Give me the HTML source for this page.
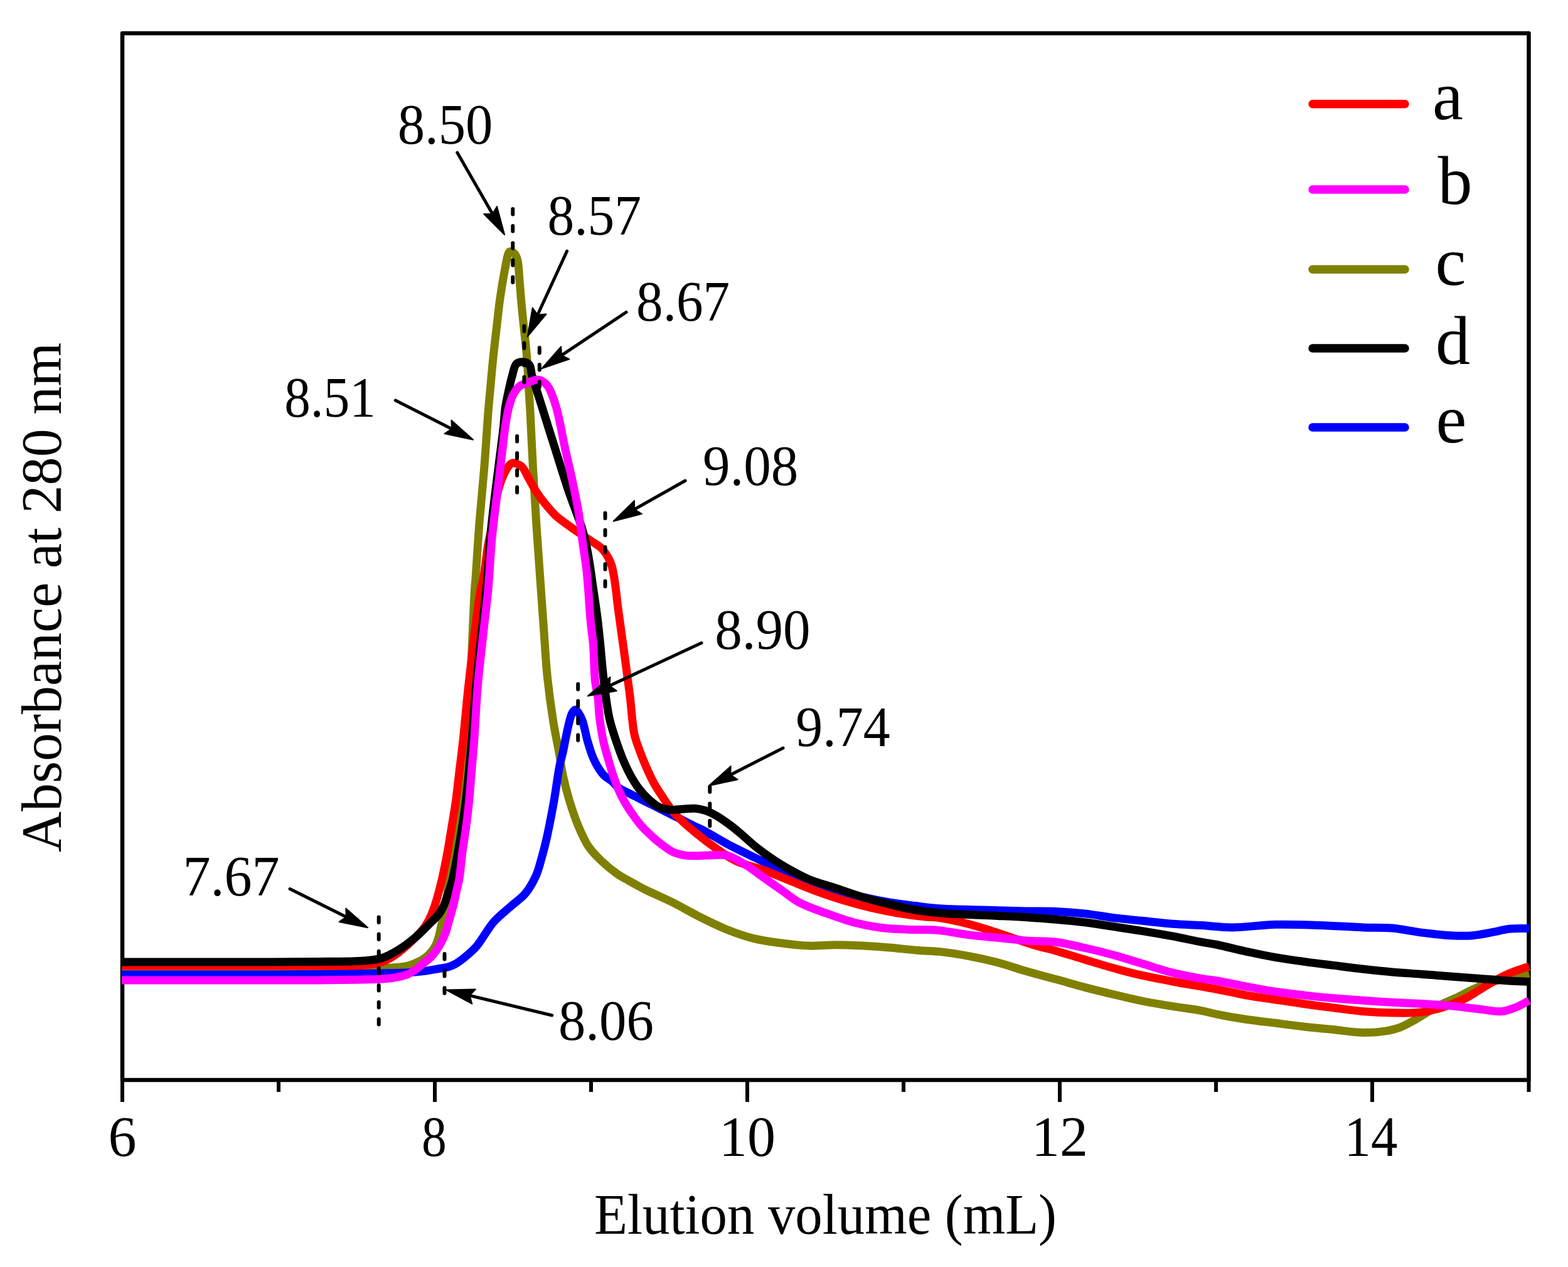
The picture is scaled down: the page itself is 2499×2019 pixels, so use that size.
<!DOCTYPE html>
<html><head><meta charset="utf-8"><title>Elution profile</title><style>
html,body{margin:0;padding:0;background:#fff;}
svg{display:block;}
</style></head><body>
<svg width="2499" height="2019" viewBox="0 0 2499 2019" font-family="'Liberation Serif', 'Times New Roman', serif">
<rect width="2499" height="2019" fill="#fff"/>
<rect x="195" y="53" width="2241.5" height="1668" fill="none" stroke="#000" stroke-width="6.5" stroke-linejoin="round"/>
<g fill="none" stroke-width="13" stroke-linejoin="round" stroke-linecap="butt">
<path d="M194 1542C229.3 1542 265.2 1542 300 1542C333.8 1542 366.7 1542 400 1542C433.3 1542 468.5 1541.8 500 1542C528.2 1542.2 560.9 1542.7 580 1543C590.7 1543.2 597.1 1543.7 605 1543.5C612 1543.3 618 1542.7 625 1542C632.9 1541.2 642.8 1540.7 650 1539C655.7 1537.6 660.3 1535.7 665 1533.5C669.6 1531.4 674.1 1529 678 1526C681.8 1523.1 685.1 1519.6 688 1516C690.8 1512.6 693.1 1509.1 695 1505C697.1 1500.5 698.6 1495 700 1490C701.3 1485.3 701.9 1480.9 703 1476C704.3 1470.4 706.2 1464.2 707.5 1458C708.9 1451.5 709.8 1445.5 711 1438C712.5 1428.4 713.8 1416.7 715.5 1405C717.4 1391.6 719.7 1376.2 722 1362C724.2 1347.9 726.8 1333.8 729 1320C731.1 1306.5 733 1296.4 735 1280C738.2 1254.2 742.4 1214.9 745 1180C747.9 1141.9 749.1 1100 751 1060C752.9 1020 755 963.5 756.5 940C757.1 930.2 757.5 928.5 758.2 919.2C759.6 900.2 761.8 861.6 764 832.8C766.3 804 769.4 775.2 771.7 746.4C774 717.6 776 683 777.8 660C779 644.7 780 634.9 781.2 621.9C782.4 608.3 783.8 592.5 785 580C786 570 786.8 562.4 787.9 552.8C789.1 542 790.6 529.7 791.9 518.2C793.2 506.7 794.4 495.2 795.9 483.7C797.4 472.2 799.4 459.6 801.1 449.1C802.6 440.3 804.1 432.3 805.5 425C806.7 418.8 807.6 412.4 809 408C809.9 405.1 810.4 401.8 812 401C813.5 400.3 816.3 401.4 818 402.5C820 403.8 821.8 406.5 823 409C824.3 411.6 824.8 414.1 825.5 418C826.8 425.2 827.3 438.5 828.2 449.1C829.2 460.3 830 472.2 831.1 483.7C832.1 495.2 833.3 506.7 834.5 518.2C835.7 529.7 837.2 542 838.2 552.8C839.1 562.4 839.8 570 840.5 580C841.4 592.5 842.1 608.3 842.9 621.9C843.7 634.9 844.4 644.7 845.2 660C846.5 683 847.9 717.6 849.5 746.4C851.1 775.2 852.8 804 854.7 832.8C856.6 861.6 858.7 890.1 860.7 919.2C862.8 948.9 865.1 981.1 867.1 1009.1C868.9 1033.6 869.9 1055.2 872.3 1078.2C874.7 1101.3 878 1126 881.4 1147.4C884.3 1166 888.2 1183.5 891 1199.2C893.3 1212.2 894.4 1222.6 897 1235C899.9 1248.6 903.9 1263.8 908.1 1277.6C912.2 1291 916.7 1304.5 921.9 1316.8C926.7 1328.2 931.5 1339.5 938 1349C944 1357.8 951.2 1364.9 958.8 1372.1C966.6 1379.5 975.8 1387.1 984.1 1392.8C991.2 1397.7 997.8 1400.9 1005 1405C1012.6 1409.3 1019.6 1413.3 1028.8 1417.9C1041 1424 1057.7 1430.9 1072 1438C1086.5 1445.2 1100.7 1453.9 1115.2 1461.1C1129.5 1468.2 1143.8 1475.4 1158.4 1481.2C1172.6 1486.9 1187.1 1492 1201.6 1495.6C1215.9 1499.1 1230.4 1500.9 1244.8 1502.8C1259.2 1504.7 1273.6 1506.6 1288 1507.1C1302.4 1507.6 1316.8 1505.7 1331.2 1505.7C1345.6 1505.7 1360 1506.4 1374.4 1507.1C1388.8 1507.8 1403.2 1508.8 1417.6 1510C1432 1511.2 1447.1 1513.2 1460.8 1514.3C1473.3 1515.3 1483.8 1515.1 1496.5 1516.4C1511 1517.9 1527.5 1520.4 1543 1523.3C1558.7 1526.2 1574.5 1529.7 1590 1533.8C1605.5 1537.9 1620.6 1543.3 1636 1547.8C1651.5 1552.3 1667.4 1556.3 1683 1560.6C1698.4 1564.8 1713.6 1569.3 1729 1573.4C1744.6 1577.5 1760.4 1581.3 1776 1585C1791.4 1588.7 1806.5 1592.4 1822 1595.5C1837.5 1598.6 1853.4 1601.1 1869 1603.6C1884.4 1606.1 1902 1608.1 1915 1610.6C1924.6 1612.4 1930.4 1614.4 1940 1616.4C1953.1 1619.1 1971 1622.2 1986.5 1624.5C2002 1626.8 2017.5 1628.4 2033 1630.3C2048.6 1632.3 2064.4 1634.4 2080 1636.2C2095.4 1637.9 2110.6 1639.3 2126 1640.8C2141.6 1642.4 2158.5 1645.3 2173 1645.5C2185.4 1645.7 2197.3 1644.7 2207.6 1643.1C2216.2 1641.7 2223.2 1640.1 2230.8 1637.3C2238.7 1634.4 2246.4 1629.9 2254.1 1625.7C2262 1621.4 2269.6 1616.2 2277.4 1611.7C2285.1 1607.3 2292.8 1602.8 2300.6 1598.9C2308.3 1595.1 2316.2 1592.2 2323.9 1588.5C2331.7 1584.8 2339.4 1580.3 2347.2 1576.8C2354.9 1573.3 2362.6 1570.2 2370.4 1567.5C2378.1 1564.8 2384.7 1562.8 2393.7 1560.5C2405.9 1557.4 2422.6 1554.5 2437 1551.5" stroke="#808000"/>
<path d="M194 1553C229.3 1553 265.2 1553 300 1553C333.8 1553 366.7 1553.1 400 1553C433.3 1552.9 468.5 1552.8 500 1552.5C528.2 1552.3 562.2 1551.8 580 1551.5C588.9 1551.3 591.9 1551.2 600 1551C612.5 1550.7 633.8 1550.8 647.5 1550C658 1549.4 666.4 1548.6 675.4 1547.5C683.9 1546.4 693 1544.7 700 1543.5C705.3 1542.6 709.6 1542.3 714 1541C718.2 1539.8 722 1538.2 726 1536C730.6 1533.4 735.1 1530 740 1526C746 1521.1 752.5 1515.9 759 1508.5C768 1498.3 777 1480.3 787 1469C795.8 1459 806.2 1451.4 815 1443.5C822.9 1436.4 831 1431.4 837.4 1423.6C844.1 1415.5 849.9 1405.1 854.2 1395.5C858.3 1386.5 860.2 1377.6 863 1368C865.9 1357.8 868.4 1348.3 871.2 1336C874.9 1319.5 879.2 1297 882.7 1277.6C886.1 1258.4 889 1234.4 891.9 1220C893.7 1211.3 895.4 1206.5 897 1199.2C898.8 1191.1 900.4 1181.7 902.2 1173.3C903.9 1165.3 905.5 1156.7 907.4 1150C908.9 1144.7 910 1139.3 912 1136C913.4 1133.7 915.3 1131 917 1131C918.7 1131 920.4 1133.8 922 1136C924.2 1139 926.2 1142.8 928.1 1148C931.2 1156.3 933.6 1171.4 936.7 1181.9C939.4 1191.2 942.3 1200.5 945.4 1207.8C947.8 1213.5 950.1 1217.9 953 1222.6C955.9 1227.3 959.1 1232.1 963 1236C966.8 1239.8 972.3 1242.2 976.1 1245.6C979.6 1248.6 981.5 1252.2 985.2 1255C989.5 1258.2 995.1 1260.4 1000.7 1263.3C1007.1 1266.6 1014.6 1270.2 1021.5 1273.7C1028.4 1277.1 1035.3 1280.6 1042.2 1284C1049.1 1287.5 1056 1290.9 1062.9 1294.4C1069.8 1297.9 1076.8 1301.3 1083.7 1304.8C1090.6 1308.3 1097.5 1311.8 1104.4 1315.2C1111.3 1318.7 1117.5 1321.4 1125.2 1325.5C1135 1330.8 1146.5 1338.1 1158.4 1344.5C1171.8 1351.6 1187.2 1359 1201.6 1366C1216 1372.9 1230.3 1379.9 1244.8 1386.2C1259.1 1392.4 1273.5 1398.2 1288 1403.5C1302.3 1408.7 1316.7 1413.6 1331.2 1417.9C1345.5 1422.2 1359.9 1426 1374.4 1429.4C1388.7 1432.7 1403.2 1435.6 1417.6 1438C1432 1440.4 1447.1 1442.1 1460.8 1443.8C1473.3 1445.3 1482.6 1446.7 1496.5 1447.7C1515.9 1449.1 1543 1449.3 1566.3 1450C1589.5 1450.7 1615 1451.5 1636 1451.9C1653.2 1452.2 1667.4 1451.7 1683 1452.4C1698.4 1453.1 1713.6 1454.2 1729 1455.9C1744.6 1457.6 1760.4 1460.9 1776 1462.8C1791.4 1464.7 1806.6 1465.9 1822 1467.5C1837.6 1469.1 1853.4 1471 1869 1472.2C1884.4 1473.4 1899.5 1473.6 1915 1474.5C1930.9 1475.5 1945.7 1477.9 1963.3 1477.9C1984.4 1477.9 2009.7 1473.9 2033 1473.3C2056.3 1472.7 2079.7 1473.7 2103 1474.5C2126.3 1475.3 2152.1 1477.1 2173 1477.9C2189.9 1478.5 2203.6 1477.8 2219 1479.1C2234.6 1480.5 2250.4 1484.2 2266 1486.1C2281.4 1488 2297.7 1490 2312 1490.7C2324.4 1491.3 2335.4 1491.7 2347 1490.7C2358.7 1489.7 2371.6 1486.8 2382 1484.9C2390.5 1483.3 2396.7 1481.2 2405 1480.3C2414.7 1479.2 2426.3 1479.8 2437 1479.5" stroke="#0000ff"/>
<path d="M194 1539C229.3 1539 265.2 1539 300 1539C333.8 1539 366.7 1539 400 1539C433.3 1539 468.5 1539.2 500 1539C528.2 1538.8 560.3 1539.7 580 1538C591.6 1537 599.6 1536 607.6 1533.5C614.2 1531.4 619.6 1528.3 625 1525C630.3 1521.8 634.8 1518.3 640 1514C646.3 1508.9 653.8 1502.3 660 1496C666.1 1489.9 672.5 1483.3 677 1477C680.8 1471.6 683.4 1466.6 686 1461C688.7 1455.3 690.6 1450.3 693 1443C696.6 1432.1 701 1415.4 704.3 1401.5C707.6 1387.7 710.2 1373.7 712.8 1360C715.3 1346.6 717.3 1333.3 719.5 1320C721.7 1306.7 724 1294.1 726 1280C728.2 1264.3 730 1246.7 732 1230C734 1213.3 735.9 1199.1 738 1180C740.8 1154.4 743.2 1123.8 747 1090C751.9 1046.3 761.2 966.7 766 940C767.8 930.2 769.2 928.2 770.7 920C773.1 907.1 775.1 885.2 777.6 870C779.7 857.3 782.7 845.5 784.5 835C786 826.5 786.8 819.7 788 812C789.3 804.3 790.3 796.4 792 789C793.7 781.8 795.8 774.2 798 768C799.8 762.8 802 758.1 804 754C805.7 750.6 807 747.7 809 745C811 742.4 812.9 738.7 816 738C819.9 737.1 826.8 739.6 831 743C836.1 747.1 839 756.2 843 763C847 769.9 850.6 777.3 855 784C859.3 790.6 863.9 796.8 869 803C874.3 809.5 879.7 816.2 886 822C892.4 827.9 900.7 833.3 907 838C912.1 841.8 915.8 844.4 921 848C927.3 852.3 935.4 857.5 942 862C948 866.1 954.4 869.4 959 874C963.2 878.2 966.3 883.2 969 888C971.6 892.5 973.3 896.5 975 902C977.2 909.2 978.5 918.3 980 928C981.9 940.1 983 953.6 985 969C987.6 989 991.4 1015 994.5 1038C997.6 1061 1000.9 1084.5 1003.7 1107C1006.4 1128.5 1007.5 1153.7 1011 1170C1013.3 1180.7 1016.3 1187.4 1019.4 1196C1022.5 1204.7 1026 1213.4 1029.8 1222C1033.6 1230.7 1037.5 1239.5 1042.2 1248C1047.1 1256.8 1053.4 1265.9 1058.8 1274C1063.7 1281.3 1068.1 1288.3 1073.3 1294.4C1078.2 1300.2 1083.6 1305.1 1088.9 1310C1094 1314.8 1099.2 1319.1 1104.4 1323.5C1109.5 1327.8 1115 1332.1 1120 1336C1124.6 1339.6 1127.7 1342.2 1133.4 1346.3C1143 1353.1 1158.9 1365.1 1172.8 1371.8C1186.5 1378.4 1201.7 1381 1216 1386.2C1230.5 1391.5 1244.8 1397.7 1259.2 1403.5C1273.6 1409.2 1287.9 1415.4 1302.4 1420.7C1316.7 1425.9 1331.1 1430.8 1345.6 1435.1C1359.9 1439.4 1374.3 1443.3 1388.8 1446.7C1403.1 1450 1417.6 1452.9 1432 1455.3C1446.3 1457.7 1463.1 1459.8 1475 1461C1483.4 1461.8 1488 1461.3 1496.5 1462.5C1509.1 1464.2 1528.7 1468.6 1543 1472.2C1555.6 1475.4 1566.4 1478.9 1578 1482.6C1589.7 1486.3 1601.3 1490.4 1613 1494.3C1624.7 1498.2 1636.3 1502.4 1648 1505.9C1659.6 1509.4 1670.6 1511.7 1683 1515.2C1697.3 1519.3 1713.6 1524.6 1729 1529.2C1744.6 1533.9 1760.4 1538.8 1776 1543.1C1791.4 1547.3 1806.5 1551.2 1822 1554.7C1837.5 1558.2 1853.4 1561.1 1869 1564C1884.4 1566.9 1902 1569.9 1915 1572.2C1924.6 1573.9 1930.4 1574.7 1940 1576.5C1953.1 1579 1971 1583.2 1986.5 1586C2002 1588.7 2017.5 1590.7 2033 1593C2048.6 1595.3 2064.4 1597.8 2080 1600C2095.4 1602.2 2110.6 1604.1 2126 1606C2141.6 1608 2157.4 1610.4 2173 1611.7C2188.4 1613 2203.6 1613.8 2219 1614C2234.6 1614.2 2251.6 1614.8 2266 1612.9C2278.5 1611.3 2289.2 1608.3 2300.6 1604.7C2312.3 1601 2325.2 1595.9 2335.5 1590.8C2344.2 1586.5 2351 1581.4 2358.8 1576.8C2366.5 1572.2 2374.2 1567.3 2382 1563C2389.6 1558.8 2396.6 1554.8 2405 1551.2C2414.7 1547.1 2426.3 1543.7 2437 1540" stroke="#ff0000"/>
<path d="M194 1533C229.3 1533 265.2 1533 300 1533C333.8 1533 366.7 1533.1 400 1533C433.3 1532.9 468.5 1532.9 500 1532.5C528.2 1532.2 560.3 1532.6 580 1531C591.6 1530.1 598.6 1529.8 607.6 1527C617.1 1524.1 626.3 1519 635.3 1513.5C644.8 1507.7 654.6 1500.1 662.9 1493C670.5 1486.5 677.2 1479.5 683.7 1473C689.5 1467.2 695.9 1461.5 700 1456C703.3 1451.6 705.1 1448 707.4 1443C710.1 1437 712.4 1429.1 714.7 1422.2C717 1415.3 719.1 1409.7 721.2 1401.5C724.1 1390.1 726.6 1376.1 729.5 1360C733.5 1337.7 738.4 1308.2 742 1280C746 1248.6 748.9 1212.5 751.8 1180C754.5 1149.2 755.8 1123.8 759 1090C763.1 1046.3 772.3 967.2 775 940C776 929.8 776.2 928.2 777 919C778.5 901.1 780.3 867.9 783 840C786.1 808.6 791.4 769.1 795 740C797.8 717.5 800.7 696.6 802.5 680C803.8 668.3 803.9 659.8 805.3 650C806.7 640.5 808.9 630.8 810.8 622C812.5 614.2 813.9 607.1 816 600C818.1 593 819.2 583.2 823.2 579.6C826.2 576.9 831.4 576.4 835 576.9C838.3 577.3 841.8 579 843.9 581.7C846.5 585.1 846.3 592.7 847.5 597C848.4 600.1 848.8 601.3 850 605C852.5 613.1 857.6 628.9 862.3 643.7C868.5 663.4 876.7 689.8 884 712.8C891.3 735.8 899.6 763.1 906 781.9C910.5 795 914.3 804.7 918 815C921.2 823.9 924.4 831.4 927 840C929.7 848.8 931.9 857.5 934 867C936.3 877.4 938.2 888.8 940 900C941.9 911.5 943.4 924.1 945 935C946.4 944.6 947.7 952.8 949 962C950.4 971.7 951.8 981.7 953 992C954.3 1003 955.3 1013.2 956.6 1026C958.3 1042.8 959.9 1064.5 962.3 1084C964.8 1104.1 966.9 1125.7 971.3 1145C975.4 1162.9 982.6 1182.8 987.3 1196C990.3 1204.5 992.5 1209.9 995.6 1216.7C998.7 1223.7 1002 1230.6 1005.9 1237.4C1009.9 1244.4 1014.5 1251.9 1019.4 1258.1C1023.9 1263.9 1028.7 1269 1033.9 1273.7C1039.1 1278.3 1044.6 1283.3 1050.5 1286.1C1056 1288.7 1061.9 1289.7 1068.1 1290.3C1074.7 1290.9 1082.2 1289.6 1088.9 1289.2C1095.3 1288.9 1101.6 1287.8 1107.5 1288.2C1113 1288.6 1118.3 1289.8 1123.1 1291.3C1127.5 1292.7 1131.2 1294.3 1135.5 1296.5C1140.5 1299 1146 1302.4 1151.1 1305.8C1156.4 1309.3 1161.7 1313.2 1166.6 1317C1171.3 1320.6 1174.8 1323.6 1180 1328C1187.5 1334.3 1197.3 1343.8 1207.4 1351.6C1218.7 1360.3 1231.6 1369.5 1244.8 1377.5C1258.5 1385.8 1273.3 1394.3 1288 1400.6C1302.1 1406.7 1316.8 1410.2 1331.2 1415C1345.6 1419.8 1359.9 1425.1 1374.4 1429.4C1388.7 1433.7 1404.2 1437.5 1417.6 1440.9C1429.2 1443.8 1438.2 1446.3 1450 1448.5C1464 1451.1 1481 1453.2 1496.5 1454.7C1512 1456.2 1527.5 1456.7 1543 1457.5C1558.6 1458.3 1574.4 1458.7 1590 1459.4C1605.4 1460.1 1620.6 1460.7 1636 1461.7C1651.6 1462.7 1667.4 1463.8 1683 1465.2C1698.4 1466.5 1713.6 1467.9 1729 1469.8C1744.6 1471.7 1760.4 1474.5 1776 1476.8C1791.4 1479.1 1806.6 1481.3 1822 1483.8C1837.6 1486.3 1853.4 1489 1869 1491.9C1884.4 1494.8 1902 1498.8 1915 1501.2C1924.6 1503 1930.4 1503.6 1940 1505.5C1953.1 1508.2 1971 1512.9 1986.5 1516.3C2002 1519.6 2017.4 1522.9 2033 1525.6C2048.6 1528.3 2064.4 1530.5 2080 1532.6C2095.4 1534.7 2110.6 1536.5 2126 1538.4C2141.6 1540.4 2157.4 1542.5 2173 1544.3C2188.4 1546 2203.6 1547.6 2219 1548.9C2234.6 1550.3 2250.4 1551.2 2266 1552.4C2281.4 1553.6 2296.6 1554.7 2312 1555.9C2327.6 1557.1 2343.4 1558.2 2359 1559.4C2374.4 1560.6 2391 1562.1 2405 1562.9C2416.6 1563.6 2426.3 1563.8 2437 1564.2" stroke="#000000"/>
<path d="M194 1562C229.3 1562 265.2 1562 300 1562C333.8 1562 366.7 1562 400 1562C433.3 1562 468.5 1562.2 500 1562C528.2 1561.8 562.2 1561.3 580 1561C588.9 1560.8 593 1560.9 600 1560.5C607.9 1560.1 616.7 1559.8 625 1558.5C633.4 1557.2 643 1555.4 650 1552.5C655.5 1550.2 659.6 1547.1 664 1544C668.3 1540.9 672.1 1537.2 676 1534C679.7 1530.9 683.4 1528.8 687 1525C691.6 1520.2 696.7 1513 700.5 1506.7C704.1 1500.7 707 1494.6 709.5 1488C712.2 1481.1 713.9 1473.4 716 1466C718.2 1458.4 720.6 1450.7 722.5 1443C724.4 1435.4 725.9 1427.2 727.5 1420C729 1413.5 730.5 1408.9 731.8 1401.5C733.7 1390.5 734.9 1373.7 736.7 1360C738.5 1346.5 740.7 1333.3 742.5 1320C744.3 1306.7 745.9 1294.1 747.3 1280C748.9 1264.3 750.1 1246.7 751.5 1230C752.9 1213.3 754.3 1199.1 755.7 1180C757.6 1154.4 758.7 1123.8 761.7 1090C765.5 1046.3 775.5 966.8 778 940C778.9 930.2 778.9 928.5 779.5 920C780.6 905 782.2 877.3 784 858C785.6 841 787.7 825.3 789.5 810C791.2 796.1 792.7 785.2 794.5 770C796.9 749.9 800.7 716.3 802.7 700C803.8 691.3 804.1 687.3 805.2 680C806.6 671 808.4 659 810.7 650C812.7 642.4 814.6 635.2 817.7 629.2C820.5 623.9 823.8 618.6 828 615.3C831.9 612.3 837.3 611.5 841.9 609.8C846.5 608.1 851.4 605 855.7 605C859.4 605 863.2 606.6 866.1 608.4C868.9 610.1 870.9 612.4 873 615.3C875.6 619 877.8 624 879.9 629.2C882.4 635.4 884.7 642.4 886.8 650C889.3 659 891.5 669.8 893.7 680C896 690.7 897.6 700.7 900.2 712.8C903.4 727.9 908.1 746.6 911.7 763.7C915.3 780.9 919.1 798.2 922 815.5C924.9 832.7 926.7 851 929 867.4C931.1 882.3 933.5 897 935 910C936.2 920.9 936.7 928.6 937.6 940C938.8 955 940 976.6 941.5 992.2C942.7 1004.8 944.3 1013.5 945.4 1026.4C946.8 1043.2 946.7 1068.4 948.4 1084.3C949.6 1095.5 952 1103.2 953.1 1112.8C954.3 1122.4 954.1 1131.5 955.3 1141.9C956.8 1154.2 959.3 1170.4 961.8 1181.9C963.7 1190.7 965.6 1196.6 968 1205C970.9 1215 974.2 1227.3 978 1238C981.7 1248.5 985.6 1258.9 990.4 1268.5C995 1277.7 1000.5 1286.4 1005.9 1294.4C1010.9 1301.9 1016.1 1308.9 1021.5 1315.2C1026.5 1320.9 1031.7 1325.8 1037 1330.7C1042.1 1335.5 1047 1339.9 1052.6 1344.2C1058.6 1348.8 1065.2 1354.2 1072 1357.4C1078.4 1360.4 1084.4 1362 1092.2 1363.1C1102.7 1364.6 1117.9 1363.1 1129.6 1363.1C1139.8 1363.1 1149.1 1360.9 1158.4 1363.1C1168.3 1365.4 1177.8 1371.9 1187.2 1377.5C1197 1383.4 1206.4 1391 1216 1397.7C1225.6 1404.4 1235.2 1411.2 1244.8 1417.9C1254.4 1424.6 1262.6 1432.1 1273.6 1438C1286.2 1444.8 1302.3 1450 1316.8 1455.3C1331.1 1460.5 1345.5 1465.9 1360 1469.7C1374.3 1473.5 1388.7 1476.4 1403.2 1478.3C1417.5 1480.2 1431.5 1480.5 1446.4 1481.2C1462.5 1482 1480.2 1481.1 1496.5 1482.6C1512.3 1484 1527.4 1487.7 1543 1489.6C1558.6 1491.6 1574.4 1492.7 1590 1494.3C1605.4 1495.8 1620.6 1497.8 1636 1498.9C1651.6 1500.1 1667.5 1499.3 1683 1501.2C1698.5 1503.1 1713.6 1507 1729 1510.5C1744.6 1514 1760.5 1517.9 1776 1522.2C1791.5 1526.5 1806.6 1531.5 1822 1536.1C1837.6 1540.8 1853.3 1546.2 1869 1550.1C1884.3 1553.9 1902 1557.1 1915 1559.4C1924.6 1561.1 1930.4 1561.4 1940 1563C1953.1 1565.2 1971 1569.3 1986.5 1572.2C2002 1575.1 2017.4 1578 2033 1580.3C2048.6 1582.6 2064.4 1584.3 2080 1586.1C2095.4 1587.8 2110.6 1589.4 2126 1590.8C2141.6 1592.2 2157.4 1593.2 2173 1594.3C2188.4 1595.4 2203.6 1596.4 2219 1597.3C2234.6 1598.2 2250.4 1598.7 2266 1599.6C2281.4 1600.5 2296.6 1601.5 2312 1602.9C2327.6 1604.3 2344.5 1606.7 2359 1608.2C2371.4 1609.5 2383.4 1612.7 2393.7 1611.7C2402.3 1610.9 2409.7 1607.6 2417 1604.7C2424.1 1601.9 2430.3 1597.9 2437 1594.5" stroke="#ff00ff"/>
</g>
<g>
<path d="M603.7 1461.5V1470.0M603.7 1488.6V1497.1M603.7 1515.7V1524.2M603.7 1542.8V1551.3M603.7 1569.9V1578.4M603.7 1597.0V1605.5M603.7 1624.1V1632.6" stroke="#000" stroke-width="6" stroke-linecap="round" fill="none"/>
<path d="M708.5 1520.0V1528.5M708.5 1547.1V1555.6M708.5 1574.2V1582.7" stroke="#000" stroke-width="6" stroke-linecap="round" fill="none"/>
<path d="M817.3 333.0V341.5M817.3 360.1V368.6M817.3 387.2V395.7M817.3 414.3V422.8M817.3 441.4V449.9" stroke="#000" stroke-width="6" stroke-linecap="round" fill="none"/>
<path d="M835.4 519.5V528.0M835.4 546.6V555.1M835.4 573.7V582.2M835.4 600.8V609.3" stroke="#000" stroke-width="6" stroke-linecap="round" fill="none"/>
<path d="M859.8 554.0V562.5M859.8 581.1V589.6M859.8 608.2V616.7" stroke="#000" stroke-width="6" stroke-linecap="round" fill="none"/>
<path d="M824.1 695.0V703.5M824.1 722.1V730.6M824.1 749.2V757.7M824.1 776.3V784.8" stroke="#000" stroke-width="6" stroke-linecap="round" fill="none"/>
<path d="M964.5 817.5V826.0M964.5 844.6V853.1M964.5 871.7V880.2M964.5 898.8V907.3M964.5 925.9V934.4" stroke="#000" stroke-width="6" stroke-linecap="round" fill="none"/>
<path d="M921.2 1090.0V1098.5M921.2 1117.1V1125.6M921.2 1144.2V1152.7M921.2 1171.3V1179.8" stroke="#000" stroke-width="6" stroke-linecap="round" fill="none"/>
<path d="M1131.3 1253.5V1262.0M1131.3 1280.6V1289.1M1131.3 1307.7V1316.2" stroke="#000" stroke-width="6" stroke-linecap="round" fill="none"/>
</g>
<g>
<path d="M728.8 243.2L785.0 340.9" stroke="#000" stroke-width="5" stroke-linecap="round" fill="none"/><path d="M804.1 374.0L771.2 341.0L785.0 340.9L792.0 329.0Z" fill="#000" stroke="#000" stroke-width="2" stroke-linejoin="round"/>
<path d="M903.6 400.2L856.8 501.7" stroke="#000" stroke-width="5" stroke-linecap="round" fill="none"/><path d="M840.8 536.4L848.7 490.5L856.8 501.7L870.5 500.6Z" fill="#000" stroke="#000" stroke-width="2" stroke-linejoin="round"/>
<path d="M998.0 497.5L895.1 566.2" stroke="#000" stroke-width="5" stroke-linecap="round" fill="none"/><path d="M863.3 587.4L894.1 552.4L895.1 566.2L907.4 572.4Z" fill="#000" stroke="#000" stroke-width="2" stroke-linejoin="round"/>
<path d="M630.3 638.0L720.0 683.4" stroke="#000" stroke-width="5" stroke-linecap="round" fill="none"/><path d="M754.1 700.7L708.5 691.1L720.0 683.4L719.4 669.7Z" fill="#000" stroke="#000" stroke-width="2" stroke-linejoin="round"/>
<path d="M1092.1 766.0L1011.0 811.7" stroke="#000" stroke-width="5" stroke-linecap="round" fill="none"/><path d="M977.7 830.5L1011.0 797.9L1011.0 811.7L1022.8 818.9Z" fill="#000" stroke="#000" stroke-width="2" stroke-linejoin="round"/>
<path d="M1118.0 1024.5L971.5 1092.8" stroke="#000" stroke-width="5" stroke-linecap="round" fill="none"/><path d="M936.8 1109.0L972.5 1079.1L971.5 1092.8L982.7 1100.9Z" fill="#000" stroke="#000" stroke-width="2" stroke-linejoin="round"/>
<path d="M1248.0 1192.0L1164.1 1234.7" stroke="#000" stroke-width="5" stroke-linecap="round" fill="none"/><path d="M1130.0 1252.0L1164.7 1220.9L1164.1 1234.7L1175.6 1242.3Z" fill="#000" stroke="#000" stroke-width="2" stroke-linejoin="round"/>
<path d="M462.0 1416.5L551.9 1461.2" stroke="#000" stroke-width="5" stroke-linecap="round" fill="none"/><path d="M586.2 1478.2L540.6 1468.9L551.9 1461.2L551.2 1447.4Z" fill="#000" stroke="#000" stroke-width="2" stroke-linejoin="round"/>
<path d="M879.8 1618.0L748.6 1586.4" stroke="#000" stroke-width="5" stroke-linecap="round" fill="none"/><path d="M711.4 1577.5L758.0 1576.4L748.6 1586.4L752.3 1599.7Z" fill="#000" stroke="#000" stroke-width="2" stroke-linejoin="round"/>
</g>
<g font-size="90" fill="#000">
<text transform="translate(633.7 228.6) scale(0.963 1)">8.50</text>
<text transform="translate(872.4 373.5) scale(0.950 1)">8.57</text>
<text transform="translate(1014.1 511.2) scale(0.946 1)">8.67</text>
<text transform="translate(453.3 663.9) scale(0.924 1)">8.51</text>
<text transform="translate(1119.9 772.7) scale(0.967 1)">9.08</text>
<text transform="translate(1139.3 1034.2) scale(0.967 1)">8.90</text>
<text transform="translate(1268.3 1189.3) scale(0.955 1)">9.74</text>
<text transform="translate(291.5 1427.3) scale(0.978 1)">7.67</text>
<text transform="translate(890.0 1657.4) scale(0.964 1)">8.06</text>
</g>
<g stroke="#000" stroke-width="6">
<path d="M195 1721V1756M444 1721V1740M693 1721V1756M942 1721V1740M1191 1721V1756M1440 1721V1740M1689 1721V1756M1938 1721V1740M2187 1721V1756M2436.5 1721V1740"/>
</g>
<g font-size="90" text-anchor="middle" fill="#000">
<text x="195" y="1842">6</text>
<text transform="translate(692 1842) scale(0.885 1)">8</text>
<text x="1191" y="1842">10</text>
<text x="1689" y="1842">12</text>
<text transform="translate(2185 1842) scale(0.943 1)">14</text>
</g>
<text x="947" y="1966" font-size="90" textLength="737" lengthAdjust="spacingAndGlyphs">Elution volume (mL)</text>
<text transform="translate(96.5,1358) rotate(-90)" font-size="90">Absorbance at 280 nm</text>
<g stroke-width="13.5" stroke-linecap="round" fill="none">
<path d="M2092 165.8H2239" stroke="#f00"/>
<path d="M2092 302H2239" stroke="#f0f"/>
<path d="M2092 429.2H2239" stroke="#808000"/>
<path d="M2092 555H2239" stroke="#000"/>
<path d="M2092 681H2239" stroke="#00f"/>
</g>
<g font-size="110" fill="#000">
<text x="2283" y="190">a</text>
<text x="2291.5" y="325">b</text>
<text x="2287.5" y="453.5">c</text>
<text x="2288" y="580">d</text>
<text x="2288.5" y="705">e</text>
</g>
</svg>
</body></html>
